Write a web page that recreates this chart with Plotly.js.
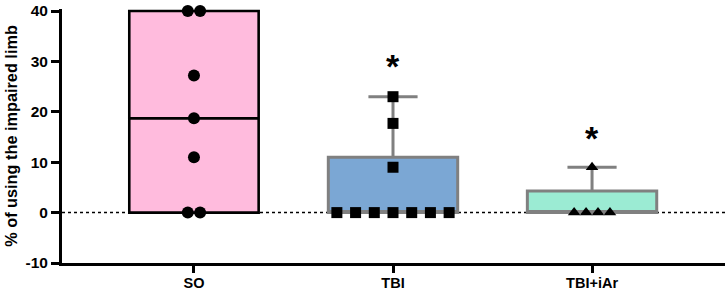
<!DOCTYPE html>
<html>
<head>
<meta charset="utf-8">
<script src="https://cdn.plot.ly/plotly-3.0.1.min.js"></script>
<style>html,body{margin:0;padding:0;background:#fff;}#chart{width:727px;height:292px;}</style>
</head>
<body>
<div id="chart"></div>
<script>
// ---- data ----
const categories = ['SO', 'TBI', 'TBI+iAr'];
const soValues = [40, 40, 27.2, 18.7, 11, 0, 0];
const tbiValues = [23, 17.7, 9, 0, 0, 0, 0, 0, 0, 0];
const tbiArValues = [9, 0, 0, 0, 0];
const q1 = [0, 0, 0];
const medians = [18.7, 0, 0];
const q3 = [40, 11, 4.3];
const minVals = [0, 0, 0];
const maxVals = [40, 23, 9];
const sigLabels = ['', '*', '*'];
const sigY = [null, 29, 14.9];
const yTicks = [-10, 0, 10, 20, 30, 40];

// ---- style ----
const fills = ['#FFBBDD', '#7BA7D4', '#9BEBD3'];
const lines = ['#000000', '#808080', '#808080'];
const symbols = ['circle', 'square', 'triangle-up'];
const msizes = [12, 11, 11];
const spreads = [0.062, 0.094, 0.06];
const font = 'Arial, "Liberation Sans", sans-serif';

const groups = [soValues, tbiValues, tbiArValues];
const traces = [];
categories.forEach((c, i) => {
  traces.push({
    type: 'box', x: [i], q1: [q1[i]], median: [medians[i]], q3: [q3[i]],
    lowerfence: [minVals[i]], upperfence: [maxVals[i]],
    width: 0.65, whiskerwidth: 0.38, boxpoints: false,
    fillcolor: fills[i], line: {color: lines[i], width: i === 0 ? 2.6 : 3},
    hoverinfo: 'skip', showlegend: false
  });
});
groups.forEach((vals, i) => {
  const counts = {};
  vals.forEach(v => counts[v] = (counts[v] || 0) + 1);
  const seen = {};
  const xs = [], ys = [];
  vals.forEach(v => {
    const n = counts[v];
    const k = seen[v] = (seen[v] === undefined ? 0 : seen[v] + 1);
    xs.push(i + (k - (n - 1) / 2) * spreads[i]);
    ys.push(v);
  });
  traces.push({
    type: 'scatter', mode: 'markers', x: xs, y: ys, cliponaxis: false,
    marker: {symbol: symbols[i], size: msizes[i], color: '#000'},
    hoverinfo: 'skip', showlegend: false
  });
});

const annotations = [];
categories.forEach((c, i) => {
  if (sigLabels[i]) annotations.push({
    x: i, y: sigY[i], xref: 'x', yref: 'y', text: '<b>' + sigLabels[i] + '</b>',
    showarrow: false, font: {family: font, size: 34, color: '#000'}
  });
});

const layout = {
  width: 727, height: 292,
  margin: {l: 62, r: 2, t: 9, b: 29},
  paper_bgcolor: '#fff', plot_bgcolor: '#fff',
  xaxis: {
    range: [-0.663, 2.668], tickvals: [0, 1, 2], ticktext: categories.map(c => '<b>' + c + '</b>'),
    showgrid: false, zeroline: false, showline: true, linecolor: '#000', linewidth: 3,
    ticks: 'outside', ticklen: 7, tickwidth: 3, tickcolor: '#000', ticklabelstandoff: -2,
    tickfont: {family: font, size: 14.5, color: '#000'}, fixedrange: true
  },
  yaxis: {
    range: [-10, 40.4], tickvals: yTicks,
    ticktext: yTicks.map(t => '<b>' + t + '</b>'),
    showgrid: false, zeroline: false, showline: true, linecolor: '#000', linewidth: 3,
    ticks: 'outside', ticklen: 8, tickwidth: 3, tickcolor: '#000',
    tickfont: {family: font, size: 15.5, color: '#000'},
    title: {text: '<b>% of using the impaired limb</b>', font: {family: font, size: 16.3, color: '#000'}, standoff: 4},
    fixedrange: true
  },
  shapes: [{
    type: 'line', xref: 'x', yref: 'y', x0: -0.663, x1: 2.668, y0: 0, y1: 0,
    line: {color: '#000', width: 1.5, dash: 'dot'}, layer: 'below'
  }],
  annotations: annotations,
  showlegend: false
};
Plotly.newPlot('chart', traces, layout, {displayModeBar: false, staticPlot: true});
</script>
</body>
</html>
